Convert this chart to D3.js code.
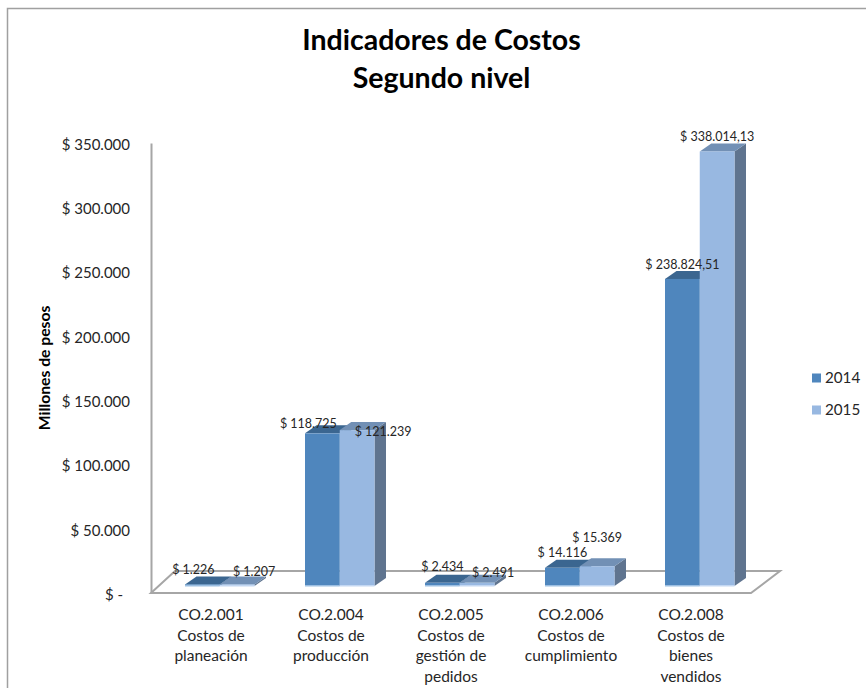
<!DOCTYPE html>
<html lang="es">
<head>
<meta charset="utf-8">
<title>Indicadores de Costos</title>
<script src="https://cdn.jsdelivr.net/npm/d3@7"></script>
<style>
  html, body { margin: 0; padding: 0; background: #fff; overflow: hidden; }
  svg { display: block; }
  text { font-family: Lato, "Noto Sans", sans-serif; fill: #262626; }
</style>
</head>
<body>
<svg id="chart" width="866" height="688"></svg>
<script>
const titleLines = ["Indicadores de Costos", "Segundo nivel"];
const yAxisTitle = "Millones de pesos";
const codes = ["CO.2.001", "CO.2.004", "CO.2.005", "CO.2.006", "CO.2.008"];
const categoryLines = [
  ["CO.2.001", "Costos de", "planeación"],
  ["CO.2.004", "Costos de", "producción"],
  ["CO.2.005", "Costos de", "gestión de", "pedidos"],
  ["CO.2.006", "Costos de", "cumplimiento"],
  ["CO.2.008", "Costos de", "bienes", "vendidos"]
];
const seriesNames = ["2014", "2015"];
const values2014 = [1226, 118725, 2434, 14116, 238824.51];
const values2015 = [1207, 121239, 2491, 15369, 338014.13];
const tickValues = [0, 50000, 100000, 150000, 200000, 250000, 300000, 350000];

// Hand-placed data label nudges from the top centre of each bar: [dx, dy]
const labelNudges2014 = [[-9, -15], [-14, -10], [0, -16.5], [0, -15.5], [0, -14.5]];
const labelNudges2015 = [[17, -13], [26, 1.5], [16, -10.5], [0, -29], [0, -14.5]];

const palette = {
  "2014": { front: "#4f86bd", top: "#3b6690", side: "#3d6488", edge: "#9cbfe2" },
  "2015": { front: "#98b8e1", top: "#7290b5", side: "#5f748f", edge: "#c3d7f2" }
};
const axisColor = "#a6a6a6";

const svg = d3.select("#chart");
const locale = d3.formatLocale({ decimal: ",", thousands: ".", grouping: [3], currency: ["$ ", ""] });
const fmtInt = locale.format(",d");
const fmtDec = locale.format(",.2f");
const money = v => "$ " + (Number.isInteger(v) ? fmtInt(v) : fmtDec(v));

// Oblique projection of the 3-D look
const depth = { x: 11.5, y: -8 };
const floorDepth = { x: 29, y: -22 };

const axisY = d3.scaleLinear().domain([0, 350000]).range([593, 143]);
// Bars stand on the floor, a little behind its front edge
const barY = d3.scaleLinear().domain([0, 350000]).range([586, 136]);
const catX = d3.scaleBand().domain(codes).range([160, 760]);
const serX = d3.scaleBand().domain(seriesNames).range([25, 94.5]);

// Chart frame, cut off by the window on the right and bottom
svg.append("path")
  .attr("d", "M7.5,688V8.5H866")
  .attr("fill", "none").attr("stroke", "#a0a0a0").attr("stroke-width", 1.5);

// Title
svg.append("g").selectAll("text").data(titleLines).join("text")
  .attr("x", 441.5)
  .attr("y", (d, i) => 50 + i * 38)
  .attr("text-anchor", "middle")
  .attr("font-size", 28.5)
  .attr("font-weight", 700)
  .style("fill", "#000")
  .text(d => d);

// Axis title
svg.append("text")
  .attr("transform", "translate(49.5,368) rotate(-90)")
  .attr("text-anchor", "middle")
  .attr("font-size", 15.7)
  .attr("font-weight", 700)
  .style("fill", "#000")
  .text(yAxisTitle);

// Floor of the 3-D plot
const x0 = 151, x1 = 751, yf = axisY(0);
const floor = svg.append("g").attr("fill", "none").attr("stroke", axisColor).attr("stroke-width", 2);
floor.append("path").attr("d",
  `M${x0},${yf}L${x0 + floorDepth.x - 5},${yf + floorDepth.y}H${x1 + floorDepth.x}L${x1},${yf}Z`);

// Value axis
const yAxis = d3.axisLeft(axisY)
  .tickValues(tickValues)
  .tickSize(0)
  .tickPadding(21)
  .tickFormat(v => v === 0 ? "$ -" : money(v));
const yG = svg.append("g").attr("transform", `translate(${x0},0)`).call(yAxis);
yG.select(".domain").attr("stroke", axisColor).attr("stroke-width", 2);
yG.selectAll("text")
  .attr("font-size", 15)
  .attr("dy", "0.42em")
  .style("font-family", "Lato, sans-serif");
yG.selectAll(".tick").filter(d => d === 0).select("text").attr("dx", -7);

// Bars as front, top and side faces
const rows = codes.flatMap((code, i) => [
  { code, series: "2014", value: values2014[i], nudge: labelNudges2014[i] },
  { code, series: "2015", value: values2015[i], nudge: labelNudges2015[i] }
]);
const barsLeftEdge = d => catX(d.code) + serX(d.series);
const bars = svg.append("g").selectAll("g").data(rows).join("g");
bars.append("path").attr("fill", d => palette[d.series].side)
  .attr("d", d => {
    const x = barsLeftEdge(d) + serX.bandwidth(), t = barY(d.value), b = barY(0);
    return `M${x},${t}L${x + depth.x},${t + depth.y}V${b + depth.y}L${x},${b}Z`;
  });
bars.append("path").attr("fill", d => palette[d.series].top)
  .attr("d", d => {
    const x = barsLeftEdge(d), w = serX.bandwidth(), t = barY(d.value);
    return `M${x},${t}L${x + depth.x},${t + depth.y}H${x + w + depth.x}L${x + w},${t}Z`;
  });
bars.append("rect").attr("fill", d => palette[d.series].front)
  .attr("x", barsLeftEdge)
  .attr("y", d => barY(d.value))
  .attr("width", serX.bandwidth())
  .attr("height", d => barY(0) - barY(d.value));
bars.append("rect").attr("fill", d => palette[d.series].edge)
  .attr("x", barsLeftEdge)
  .attr("y", barY(0) - 1)
  .attr("width", serX.bandwidth())
  .attr("height", 1.5);

// Data labels
svg.append("g").selectAll("text").data(rows).join("text")
  .attr("x", d => barsLeftEdge(d) + serX.bandwidth() / 2 + d.nudge[0])
  .attr("y", d => barY(d.value) + d.nudge[1])
  .attr("dy", "0.35em")
  .attr("text-anchor", "middle")
  .attr("font-size", 12.5)
  .text(d => money(d.value));

// Category labels, one line per row
const cats = svg.append("g").selectAll("text").data(codes).join("text")
  .attr("text-anchor", "middle")
  .attr("font-size", 15.5);
cats.selectAll("tspan").data((d, i) => categoryLines[i]).join("tspan")
  .attr("x", function () { return catX(d3.select(this.parentNode).datum()) + catX.bandwidth() / 2 - 9; })
  .attr("y", (d, i) => 620 + i * 20.7)
  .text(d => d);

// Legend
const legend = svg.append("g").selectAll("g").data(seriesNames).join("g")
  .attr("transform", (d, i) => `translate(812,${378 + i * 32})`);
legend.append("rect").attr("x", 0).attr("y", -4.5).attr("width", 9).attr("height", 9)
  .attr("fill", d => palette[d].front);
legend.append("text").attr("x", 13).attr("dy", "0.36em")
  .attr("font-size", 15.2).text(d => d);
</script>
</body>
</html>
